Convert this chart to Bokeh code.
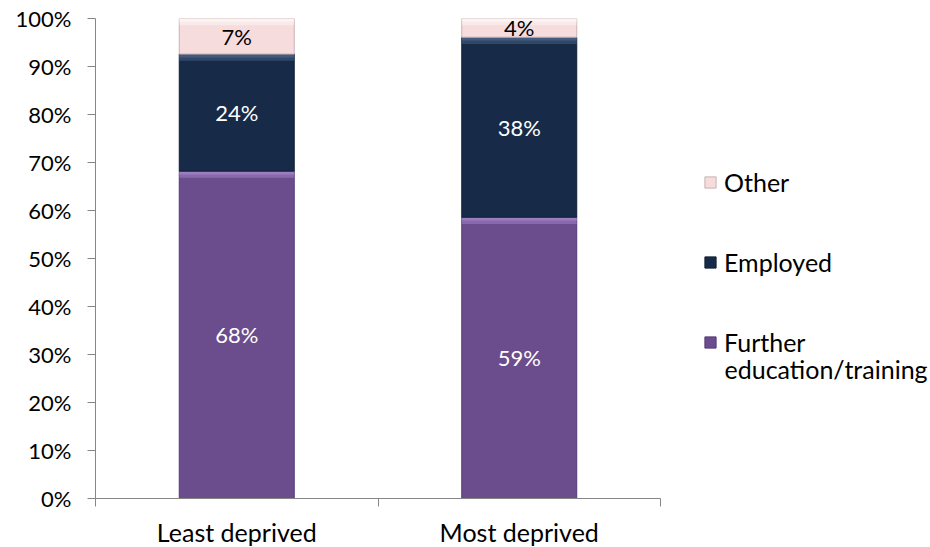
from bokeh.plotting import figure
from bokeh.models import Range1d, FixedTicker, Legend, LegendItem, ColumnDataSource, LabelSet, Label
from bokeh.core.properties import value
from bokeh.embed import file_html
from bokeh.resources import INLINE

categories = ["Least deprived", "Most deprived"]
series_names = ["Further education/training", "Employed", "Other"]
further = [68.2, 58.6]
employed = [24.4, 37.5]
other = [7.4, 3.9]
y_ticks = [0, 10, 20, 30, 40, 50, 60, 70, 80, 90, 100]
y_tick_labels = ["0%", "10%", "20%", "30%", "40%", "50%", "60%", "70%", "80%", "90%", "100%"]

colors = ["#6b4c8c", "#172b49", "#f6dcdc"]
highlights = ["#b596dc", "#5a7398", "#ffffff"]
edges = ["#54397a", "#101f36", "#c9b2b2"]
text_colors = ["#ffffff", "#ffffff", "#000000"]
FONT = "Lato"
NUM_FS = "22px"
TXT_FS = "25px"

axis_w = 565          # pixel length of the category axis
frame_w = 835
n_cat = len(categories)
x_end = n_cat * frame_w / axis_w
px_per_unit_x = axis_w / n_cat
px_per_unit_y = 480 / 100

p = figure(frame_width=frame_w, frame_height=480,
           min_border_left=95, min_border_right=0, min_border_top=18, min_border_bottom=49,
           x_range=Range1d(0, x_end), y_range=Range1d(0, 100),
           output_backend="svg", toolbar_location=None)
p.outline_line_color = None
p.xgrid.visible = False
p.ygrid.visible = False
p.background_fill_color = "white"
p.border_fill_color = "white"

series = [further, employed, other]
bar_w = 0.407
x_centers = [i + 0.5 for i in range(n_cat)]
bottoms = [0.0] * n_cat
renderers = []
lab_x, lab_y, lab_t, lab_c = [], [], [], []
for s, vals in enumerate(series):
    tops = [b + v for b, v in zip(bottoms, vals)]
    src = ColumnDataSource(dict(
        left=[x - bar_w / 2 for x in x_centers],
        right=[x + bar_w / 2 for x in x_centers],
        bottom=list(bottoms), top=tops,
        hl1=[t - 1.4 for t in tops],
        hl2=[t - 0.7 for t in tops],
    ))
    r = p.quad(left="left", right="right", bottom="bottom", top="top", source=src,
               fill_color=colors[s], line_color=edges[s], line_width=1)
    p.quad(left="left", right="right", bottom="hl1", top="top", source=src,
           fill_color=highlights[s], fill_alpha=0.4, line_color=None)
    p.quad(left="left", right="right", bottom="hl2", top="top", source=src,
           fill_color=highlights[s], fill_alpha=0.45, line_color=None)
    renderers.append(r)
    for x, b, t, v in zip(x_centers, bottoms, tops, vals):
        lab_x.append(x)
        lab_y.append((b + t) / 2)
        lab_t.append(f"{round(v)}%")
        lab_c.append(text_colors[s])
    bottoms = tops

lsrc = ColumnDataSource(dict(x=lab_x, y=lab_y, text=lab_t, color=lab_c))
p.add_layout(LabelSet(x="x", y="y", text="text", source=lsrc, text_color="color",
                      text_align="center", text_baseline="middle",
                      text_font=value(FONT), text_font_size=NUM_FS))

# y axis
ya = p.yaxis[0]
ya.ticker = FixedTicker(ticks=y_ticks, minor_ticks=[])
ya.major_label_overrides = {t: l for t, l in zip(y_ticks, y_tick_labels)}
ya.axis_line_color = "#868686"
ya.major_tick_line_color = "#868686"
ya.major_tick_out = 8
ya.major_tick_in = 0
ya.major_label_standoff = 16
ya.major_label_text_font = FONT
ya.major_label_text_font_size = NUM_FS
ya.major_label_text_color = "#000000"

# x axis
xa = p.xaxis[0]
xa.bounds = (0, n_cat)
xa.ticker = FixedTicker(ticks=x_centers, minor_ticks=[i for i in range(n_cat + 1)])
xa.major_label_overrides = {x: c for x, c in zip(x_centers, categories)}
xa.axis_line_color = "#868686"
xa.major_tick_out = 0
xa.major_tick_in = 0
xa.minor_tick_line_color = "#868686"
xa.minor_tick_out = 8
xa.minor_tick_in = 0
xa.major_label_standoff = 10
xa.major_label_text_font = FONT
xa.major_label_text_font_size = TXT_FS
xa.major_label_text_color = "#000000"

# legend: first word of the long series name beside the swatch, the rest on a second line
first_word, rest = series_names[0].split(" ", 1)
item_labels = [first_word, series_names[1], series_names[2]]
items = [LegendItem(label=item_labels[i], renderers=[renderers[i]]) for i in [2, 1, 0]]
legend = Legend(items=items, location=(608, 141), orientation="vertical",
                glyph_width=14, glyph_height=14, label_height=30, spacing=50,
                label_standoff=7, padding=0, margin=0,
                border_line_color=None, background_fill_alpha=0,
                label_text_font=FONT, label_text_font_size=TXT_FS, label_text_color="#000000")
p.add_layout(legend)

p.add_layout(Label(x=(724 - 95) / px_per_unit_x, y=(498 - 368) / px_per_unit_y, text=rest,
                   text_font=FONT, text_font_size=TXT_FS, text_color="#000000",
                   text_align="left", text_baseline="middle"))

open("out.html", "w").write(file_html(p, INLINE))
